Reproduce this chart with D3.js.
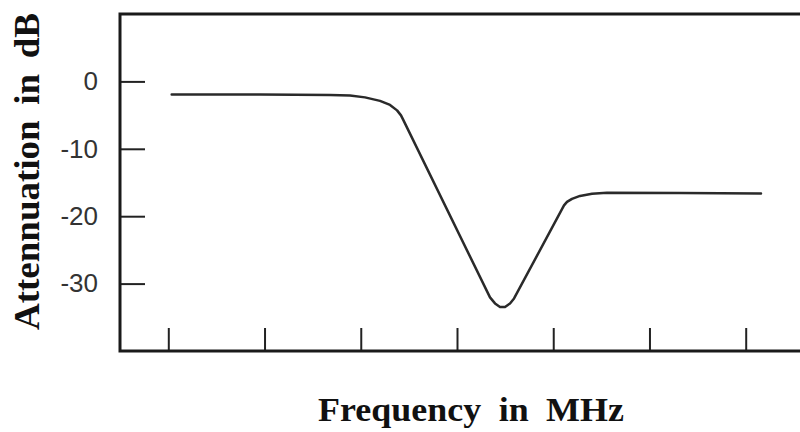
<!DOCTYPE html>
<html>
<head>
	<meta charset="utf-8">
	<script src="https://cdn.jsdelivr.net/npm/d3@7/dist/d3.min.js"></script>
	<style>
		html, body {
			padding: 0;
			margin: 0;
			background: #ffffff;
		}
	</style>
</head>
<body>
	<script>
		var width = 800, height = 432;

		// frequency in tick units (ticks 0..6), attenuation in dB
		var freq = [0.035, 0.953, 1.680, 1.888, 2.044, 2.200, 2.304, 2.377, 2.418, 2.439,
			3.343, 3.395, 3.447, 3.499, 3.551, 3.593,
			4.112, 4.143, 4.195, 4.278, 4.403, 4.558, 5.317, 6.159];
		var atten = [-1.93, -1.93, -2.00, -2.08, -2.37, -2.89, -3.49, -4.30, -5.04, -5.64,
			-32.05, -32.94, -33.46, -33.46, -32.94, -32.20,
			-18.40, -17.88, -17.43, -16.99, -16.66, -16.51, -16.54, -16.62];
		var yTicks = [0, -10, -20, -30];
		var xTicks = [0, 1, 2, 3, 4, 5, 6];

		var svg = d3.select('body').append('svg')
			.attr('width', width)
			.attr('height', height);

		/* plot frame edges */
		var frameLeft = 120, frameTop = 14, frameBottom = 351;

		var x = d3.scaleLinear().domain([0, 6]).range([168.3, 745.7]);
		var y = d3.scaleLinear().domain([-40, 10]).range([frameBottom, frameTop]);

		/* y axis with inward ticks */
		var yAxis = svg.append('g')
			.attr('transform', 'translate(' + frameLeft + ',0)')
			.call(d3.axisLeft(y).tickValues(yTicks).tickSize(-25).tickPadding(22)
				.tickFormat(function(d) { return String(d); }));
		yAxis.select('.domain').remove();
		yAxis.selectAll('line').attr('stroke', '#222').attr('stroke-width', 2);
		yAxis.selectAll('text')
			.attr('fill', '#333')
			.style('font-family', '"Liberation Sans", Arial, sans-serif')
			.style('font-size', '26px');

		/* x axis, unlabelled ticks pointing up */
		var xAxis = svg.append('g')
			.attr('transform', 'translate(0,' + frameBottom + ')')
			.call(d3.axisBottom(x).tickValues(xTicks).tickSize(-23).tickFormat(''));
		xAxis.select('.domain').remove();
		xAxis.selectAll('line').attr('stroke', '#222').attr('stroke-width', 2);

		/* frame: left, top, bottom (right edge runs off the picture) */
		svg.append('path')
			.attr('d', 'M' + (width + 5) + ',' + frameTop + 'H' + frameLeft + 'V' + frameBottom + 'H' + (width + 5))
			.attr('fill', 'none')
			.attr('stroke', '#1a1a1a')
			.attr('stroke-width', 3);

		/* response curve */
		var pts = freq.map(function(f, i) { return [f, atten[i]]; });
		var line = d3.line()
			.x(function(d) { return x(d[0]); })
			.y(function(d) { return y(d[1]); });

		svg.append('path')
			.datum(pts)
			.attr('d', line)
			.attr('fill', 'none')
			.attr('stroke', '#2a2a2a')
			.attr('stroke-width', 2.5)
			.attr('stroke-linejoin', 'round')
			.attr('stroke-linecap', 'round');

		/* axis titles (slightly stretched like the scanned serif) */
		svg.append('text')
			.attr('x', 318)
			.attr('y', 421)
			.attr('textLength', 306)
			.attr('lengthAdjust', 'spacingAndGlyphs')
			.style('font-family', '"Liberation Serif", "Times New Roman", serif')
			.style('font-weight', 'bold')
			.style('font-size', '34px')
			.style('word-spacing', '8px')
			.attr('fill', '#111')
			.text('Frequency in MHz');

		svg.append('text')
			.attr('transform', 'translate(39,330) rotate(-90)')
			.attr('textLength', 317)
			.attr('lengthAdjust', 'spacingAndGlyphs')
			.style('font-family', '"Liberation Serif", "Times New Roman", serif')
			.style('font-weight', 'bold')
			.style('font-size', '35px')
			.style('word-spacing', '6px')
			.attr('fill', '#111')
			.text('Attennuation in dB');
	</script>
</body>
</html>
